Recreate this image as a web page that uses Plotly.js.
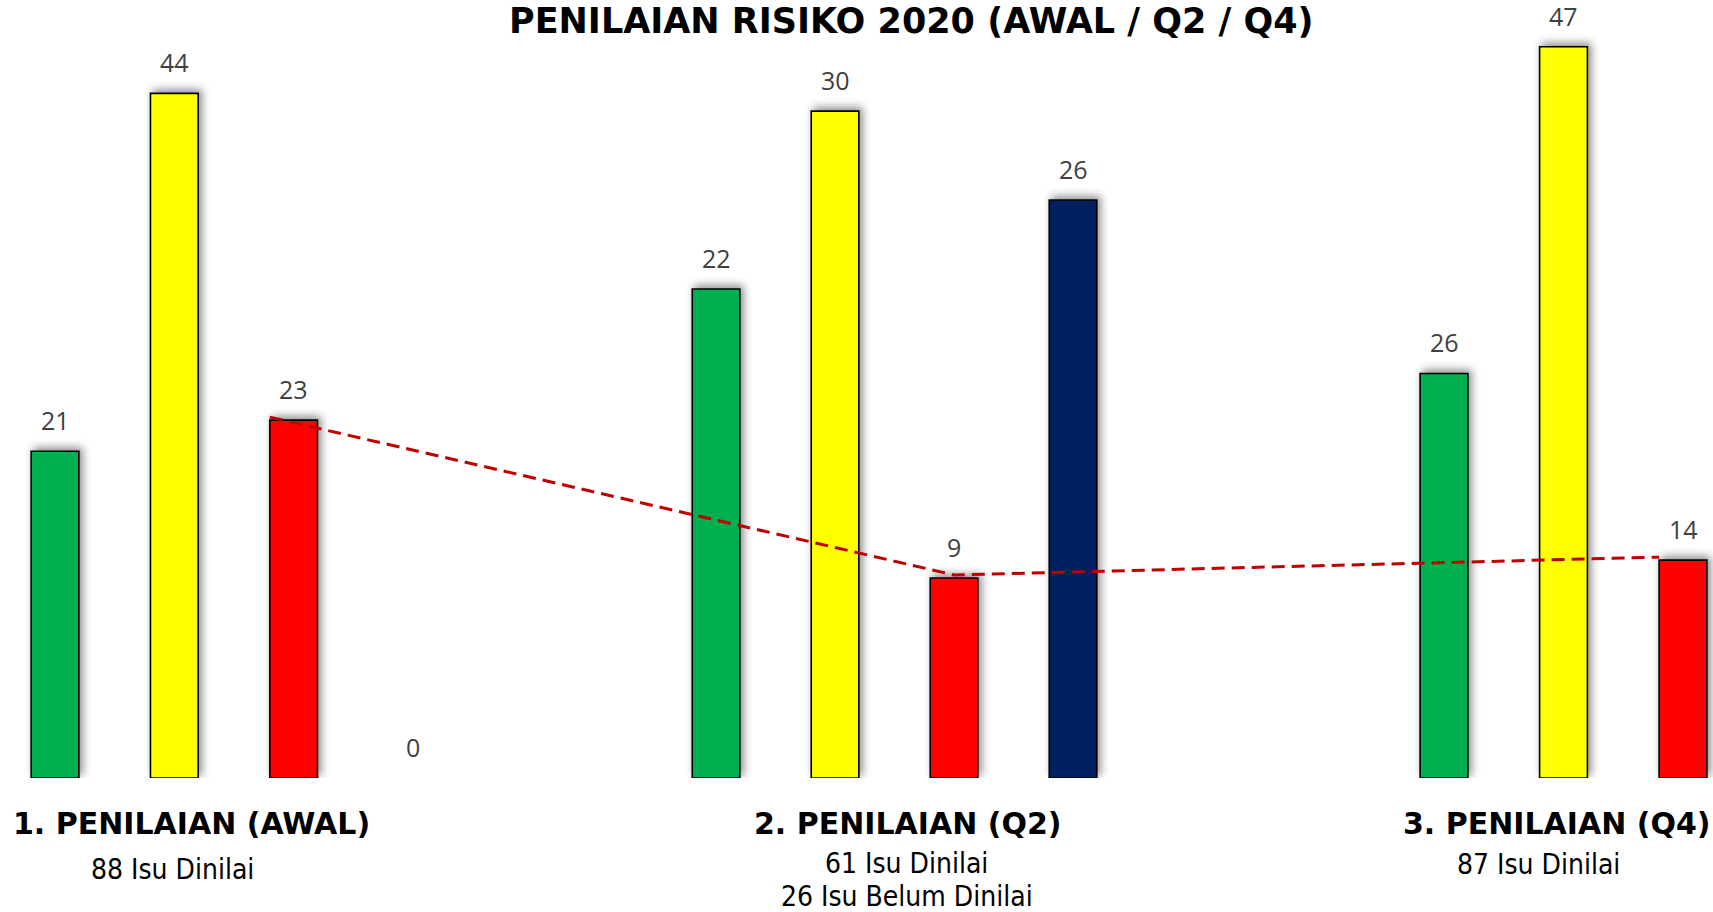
<!DOCTYPE html>
<html><head><meta charset="utf-8">
<script src="https://cdn.plot.ly/plotly-3.0.1.min.js"></script>
<style>html,body{margin:0;padding:0;background:#fff;overflow:hidden}#chart{width:1713px;height:912px}</style>
</head><body><div id="chart"></div>
<script>
const categories = ['Rendah', 'Sedang', 'Tinggi', 'Belum Dinilai'];
const barColors = ['#00B050', '#FFFF00', '#FF0000', '#002060'];
const awalValues = [21, 44, 23, 0];
const q2Values = [22, 30, 9, 26];
const q4Values = [26, 47, 14];
const groupTitles = ['1. PENILAIAN (AWAL)', '2. PENILAIAN (Q2)', '3. PENILAIAN (Q4)'];
const groupNotes = [['88 Isu Dinilai'], ['61 Isu Dinilai', '26 Isu Belum Dinilai'], ['87 Isu Dinilai']];
const chartTitle = 'PENILAIAN RISIKO 2020 (AWAL / Q2 / Q4)';

const W = 1713, H = 912, PLOT_H = 778;
const BAR_W = 0.4;
const groups = [
  {values: awalValues, xa: 'x',  ya: 'y'},
  {values: q2Values,   xa: 'x2', ya: 'y2'},
  {values: q4Values,   xa: 'x3', ya: 'y3'}
];

const data = groups.map(g => ({
  type: 'bar',
  x: categories.slice(0, g.values.length),
  y: g.values,
  xaxis: g.xa, yaxis: g.ya,
  width: BAR_W,
  marker: {
    color: barColors.slice(0, g.values.length),
    line: {color: '#000000', width: g.values.map(v => v > 0 ? 1.6 : 0)}
  },
  hoverinfo: 'skip', showlegend: false, cliponaxis: false
}));

const annotations = [];
groups.forEach(g => {
  g.values.forEach((v, i) => {
    annotations.push({
      xref: g.xa, yref: g.ya, x: categories[i], y: v,
      text: String(v), showarrow: false, yanchor: 'bottom', yshift: 12,
      font: {family: 'Open Sans', size: 25, color: '#404040'}
    });
  });
});

// chart title
annotations.push({
  xref: 'paper', yref: 'paper', x: 911 / W, y: 1, xanchor: 'center', yanchor: 'top', yshift: 1,
  text: chartTitle, showarrow: false,
  font: {family: 'DejaVu Sans', size: 35, weight: 'bold', color: '#000000'}
});

// group headings & notes (positions in px of the page)
const headPos = [{cx: 191, top: 804}, {cx: 908, top: 804}, {cx: 1557, top: 804}];
const notePos = [[{cx: 172, top: 851}], [{cx: 906, top: 845}, {cx: 907, top: 878}], [{cx: 1538, top: 846}]];
groupTitles.forEach((t, k) => {
  annotations.push({
    xref: 'paper', yref: 'paper', x: headPos[k].cx / W, y: 0, xanchor: 'center', yanchor: 'top',
    yshift: -(headPos[k].top - PLOT_H), text: t, showarrow: false,
    font: {family: 'DejaVu Sans', size: 30, weight: 'bold', color: '#000000'}
  });
  groupNotes[k].forEach((n, j) => {
    annotations.push({
      xref: 'paper', yref: 'paper', x: notePos[k][j].cx / W, y: 0, xanchor: 'center', yanchor: 'top',
      yshift: -(notePos[k][j].top - PLOT_H), text: n, showarrow: false,
      font: {family: 'DejaVu Sans Condensed', size: 28, color: '#000000'}
    });
  });
});

const hidden = {visible: false, showgrid: false, zeroline: false, fixedrange: true};
const layout = {
  width: W, height: H,
  margin: {l: 0, r: 0, t: 0, b: H - PLOT_H, pad: 0},
  paper_bgcolor: '#ffffff', plot_bgcolor: 'rgba(0,0,0,0)',
  xaxis:  Object.assign({}, hidden, {type: 'category', domain: [0, 480 / W], range: [-0.461, 3.562], anchor: 'y'}),
  yaxis:  Object.assign({}, hidden, {range: [0, 50], anchor: 'x'}),
  xaxis2: Object.assign({}, hidden, {type: 'category', domain: [600 / W, 1200 / W], range: [-0.975, 4.067], anchor: 'y2'}),
  yaxis2: Object.assign({}, hidden, {range: [0, 35], anchor: 'x2'}),
  xaxis3: Object.assign({}, hidden, {type: 'category', domain: [1300 / W, 1], range: [-1.205, 2.251], anchor: 'y3'}),
  yaxis3: Object.assign({}, hidden, {range: [0, 50], anchor: 'x3'}),
  annotations: annotations,
  bargap: 0.6
};

function axKey(id) { return id.charAt(0) === 'x' ? 'xaxis' + id.slice(1) : 'yaxis' + id.slice(1); }

const gd = document.getElementById('chart');
Plotly.newPlot(gd, data, layout, {staticPlot: true, displayModeBar: false}).then(() => {
  const fl = gd._fullLayout;
  const s = fl._size;
  const redIdx = 2;
  const pts = groups.map((g, k) => {
    const xa = fl[axKey(g.xa)], ya = fl[axKey(g.ya)];
    const off = k === 1 ? 0 : -BAR_W / 2;
    const px = xa._offset + xa.l2p(redIdx + off);
    const py = ya._offset + ya.l2p(g.values[redIdx]) - 3;
    return [(px - s.l) / s.w, (s.t + s.h - py) / s.h];
  });
  const path = pts.map((p, i) => (i ? 'L' : 'M') + p[0].toFixed(5) + ',' + p[1].toFixed(5)).join(' ');
  return Plotly.relayout(gd, {shapes: [{
    type: 'path', xref: 'paper', yref: 'paper', path: path, layer: 'above',
    line: {color: '#C00000', width: 3, dash: '13px,7px'}
  }]});
}).then(() => {
  document.querySelectorAll('.barlayer .point path').forEach(p => {
    p.style.filter = 'drop-shadow(3px -3px 4px rgba(0,0,0,0.45))';
  });
});
</script>
</body></html>
